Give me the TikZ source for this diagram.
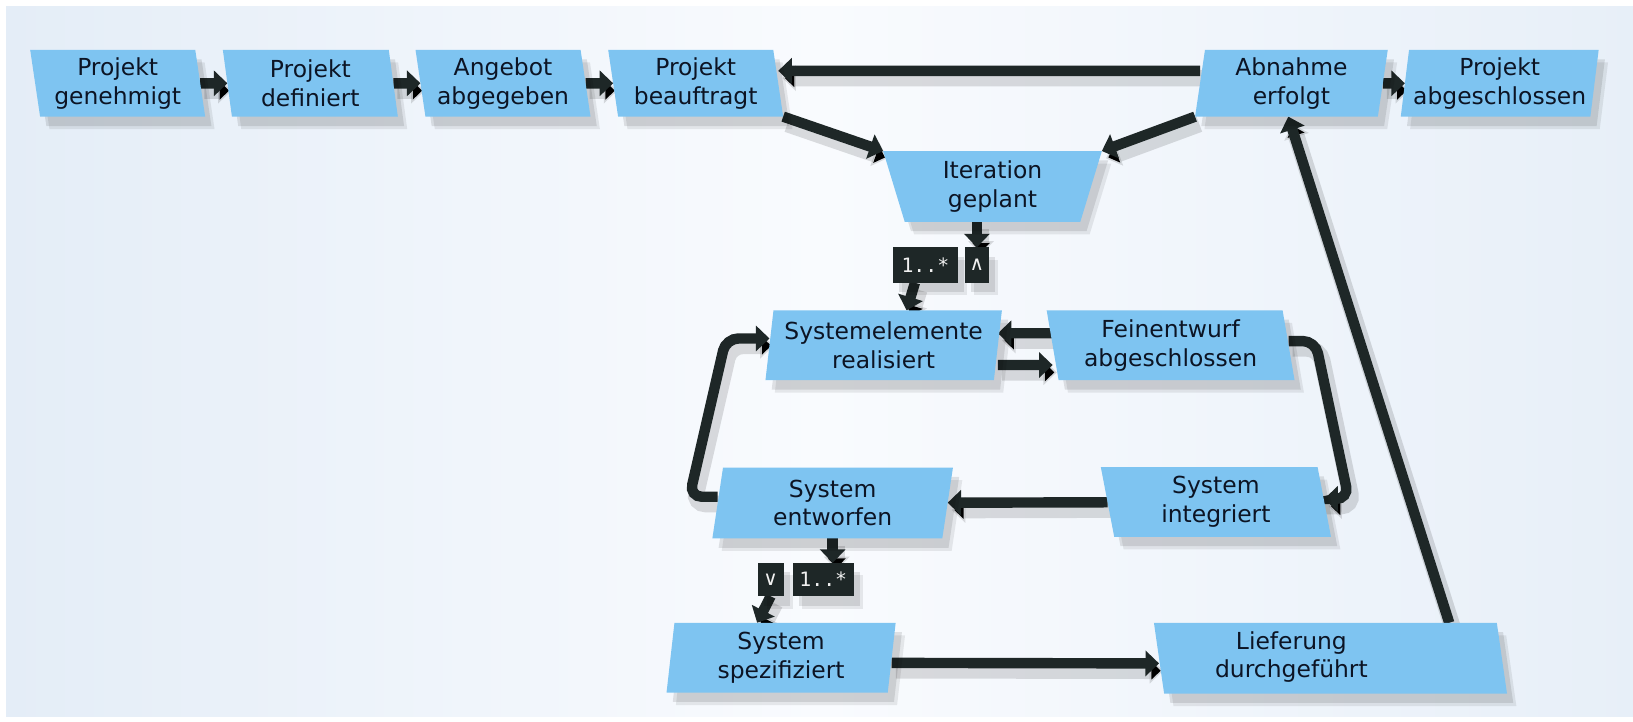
\documentclass[tikz,border=0pt]{standalone}
\usepackage{fontspec}
\setmainfont{DejaVu Sans}
\newfontfamily\tagfont{DejaVu Sans Mono}
\newfontfamily\opfont{DejaVu Sans}
\usetikzlibrary{shapes.geometric,arrows.meta,shadows}

\definecolor{boxblue}{RGB}{126,196,241}
\definecolor{darkline}{RGB}{30,39,39}
\definecolor{txt}{RGB}{12,20,36}
\definecolor{bgside}{RGB}{228,237,247}
\definecolor{bgmid}{RGB}{249,251,254}

\pgfdeclarelayer{bg}
\pgfdeclarelayer{conn}
\pgfsetlayers{bg,conn,main}

\begin{document}
\begin{tikzpicture}[x=1pt,y=-1pt,
  softshadow/.style={
    drop shadow={shadow xshift=9pt, shadow yshift=-12pt, fill=black, opacity=0.08},
    drop shadow={shadow xshift=6pt, shadow yshift=-9pt, fill=black, opacity=0.10}},
  evt/.style={trapezium, trapezium stretches body=true, fill=boxblue, draw=none,
    text=txt, align=center, font=\fontsize{22.5}{27.5}\selectfont,
    minimum height=67pt, inner sep=1pt, outer sep=0pt, softshadow},
  evttext/.style={text=txt, align=center, font=\fontsize{22.5}{27.5}\selectfont, inner sep=0pt},
  tag/.style={fill=darkline, text=white!88!gray, inner sep=0pt, outer sep=0pt,
    minimum height=34pt, font=\tagfont\fontsize{19}{19}\selectfont, softshadow},
  conn/.style={draw=darkline, line width=10pt,
    -{Triangle[length=13pt,width=24pt]},
    preaction={draw=black, draw opacity=0.13, line width=16pt,
      transform canvas={xshift=4pt,yshift=-7pt}}},
]
\useasboundingbox (0,0) rectangle (1568,693);

% page background
\begin{pgfonlayer}{bg}
  \fill[white] (0,0) rectangle (1568,693);
  \shade[left color=bgside, right color=bgside!85!bgmid, middle color=bgmid]
    (6,6) rectangle (1568,688);
\end{pgfonlayer}

% upper row of events
\node[evt, minimum height=64pt, minimum width=168pt,
  trapezium left angle=100.5, trapezium right angle=79.5] (pg) at (113,80) {Projekt\\genehmigt};
\node[evt, minimum height=64pt, minimum width=168pt,
  trapezium left angle=100.5, trapezium right angle=79.5] (pd) at (298,80) {Projekt\\definiert};
\node[evt, minimum height=64pt, minimum width=168pt,
  trapezium left angle=100.5, trapezium right angle=79.5] (aa) at (483,80) {Angebot\\abgegeben};
\node[evt, minimum height=64pt, minimum width=168pt,
  trapezium left angle=100.5, trapezium right angle=79.5] (pb) at (668,80) {Projekt\\beauftragt};
\node[evt, minimum height=64pt, minimum width=185pt,
  trapezium left angle=79.5, trapezium right angle=100.5] (ae) at (1240,80) {Abnahme\\erfolgt};
\node[evt, minimum height=64pt, minimum width=190pt,
  trapezium left angle=81.2, trapezium right angle=98.8] (pa) at (1440,80) {Projekt\\abgeschlossen};

% iteration
\node[evt, minimum height=68pt, minimum width=210pt,
  trapezium left angle=112, trapezium right angle=112] (ig) at (953,179) {Iteration\\geplant};

% inner cycle
\node[evt, minimum width=227pt,
  trapezium left angle=80.7, trapezium right angle=99.3] (sr) at (848.5,331.5) {Systemelemente\\realisiert};
\node[evt, minimum width=238pt,
  trapezium left angle=102.6, trapezium right angle=77.4] (fa) at (1124,331.5) {Feinentwurf\\abgeschlossen};
\node[evt, minimum height=68pt, minimum width=231pt,
  trapezium left angle=77.6, trapezium right angle=102.4] (se) at (799.5,483) {System\\entworfen};
\node[evt, minimum width=221pt,
  trapezium left angle=104.2, trapezium right angle=75.8] (si) at (1167.5,482) {System\\integriert};

% lower row
\node[evt, minimum width=220pt,
  trapezium left angle=81.5, trapezium right angle=98.5] (ss) at (750,631.5) {System\\spezifiziert};
\node[evt, minimum height=68pt, minimum width=339pt,
  trapezium left angle=100.8, trapezium right angle=79.2] (ld) at (1277.5,632)
  {\phantom{Lieferung}\\\phantom{durchgeführt}};
\node[evttext] (ldt) at (1240,631) {Lieferung\\durchgeführt};

% multiplicity and operator tags
\node[tag, minimum width=62pt] (m1) at (888.5,254.5) {1..*};
\node[tag, minimum width=23pt] (and1) at (938,254.5) {\opfont ∧};
\node[tag, minimum width=25pt, minimum height=32pt] (or1) at (740,556.5) {\opfont ∨};
\node[tag, minimum width=59pt, minimum height=32pt] (m2) at (790.5,556.5) {1..*};

% bend points
\coordinate (k1) at (1263,327.5);
\coordinate (k2) at (1295,479);
\coordinate (k3) at (662,477);
\coordinate (k4) at (697,325);

\begin{pgfonlayer}{conn}
  \draw[conn] (pg) -- (pd);
  \draw[conn] (pd) -- (aa);
  \draw[conn] (aa) -- (pb);
  \draw[conn] ([yshift=12pt]ae.west) -- ([yshift=12pt]pb.east);
  \draw[conn] (ae) -- (pa);
  \draw[conn] (pb.bottom right corner) -- (ig.top left corner);
  \draw[conn] (ae.bottom left corner) -- (ig.top right corner);
  \draw[conn] (ig.south -| and1.north) -- (and1.north);
  \draw[conn] ([xshift=-10pt]m1.south) -- ([xshift=22pt]sr.north);
  \draw[conn] ([yshift=11.5pt]fa.west) -- ([yshift=11.5pt]sr.east);
  \draw[conn] ([yshift=-19pt]sr.east) -- ([yshift=-19pt]fa.west);
  \draw[conn, rounded corners=12pt] ([yshift=4pt]fa.east) -- (k1) -- (k2) -- ([yshift=3pt]si.east);
  \draw[conn] (si) -- (se);
  \draw[conn, rounded corners=12pt] ([yshift=6pt]se.west) -- (k3) -- (k4) -- ([yshift=6.5pt]sr.west);
  \draw[conn] (se.south) -- (se.south |- m2.north);
  \draw[conn] (or1.south) -- ([xshift=-23pt]ss.north);
  \draw[conn] ([yshift=-5pt]ss.east) -- ([yshift=-5pt]ld.west);
  \draw[conn] ([xshift=114pt]ld.north) -- ([xshift=-3pt]ae.south);
\end{pgfonlayer}
\end{tikzpicture}
\end{document}
